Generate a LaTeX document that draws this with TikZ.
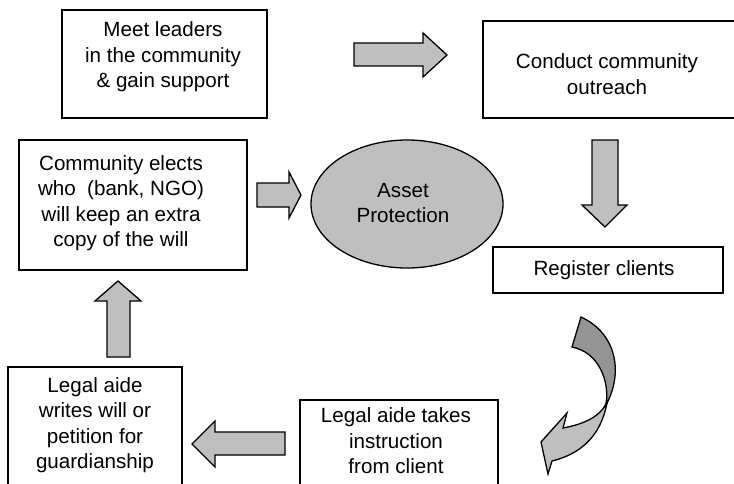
\documentclass[tikz,border=0pt]{standalone}
\usepackage{fontspec}
\setmainfont{Liberation Sans}
\usetikzlibrary{shapes.geometric}
\begin{document}
\begin{tikzpicture}[x=1pt,y=-1pt,
  box/.style={draw=black,line width=1.3pt,fill=white,inner sep=0pt},
  lbl/.style={align=center,font=\fontsize{20.6}{25.5}\selectfont,inner sep=0pt},
  blockarrow/.style={draw=black,line width=1.3pt,fill=black!25,line join=miter},
  darkpart/.style={draw=black,line width=1.3pt,fill=black!42}]
\clip (0,0) rectangle (734,483);
\fill[white] (0,0) rectangle (734,483);

% process boxes
\node[box,minimum width=205pt,minimum height=108pt] (meet) at (164.5,64) {};
\node[box,minimum width=228pt,minimum height=130pt] (elect) at (133,205) {};
\node[box,minimum width=267pt,minimum height=97pt] (conduct) at (616.5,69.5) {};
\node[box,minimum width=230pt,minimum height=46pt] (register) at (608,270) {};
\node[box,minimum width=174pt,minimum height=133pt] (writes) at (95,433.5) {};
\node[box,minimum width=198pt,minimum height=100pt] (takes) at (399,450) {};
\node[draw=black,line width=1.3pt,fill=black!25,ellipse,minimum width=192pt,minimum height=128pt,inner sep=0pt] (asset) at (407,204) {};

% labels
\node[lbl] (meettext) at (163,57) {Meet leaders\\in the community\\\& gain support};
\node[lbl] (electtext) at (121,203) {Community elects\\who\ \ (bank, NGO)\\will keep an extra\\copy of the will};
\node[lbl] (conducttext) at (607,74) {Conduct community\\outreach};
\node[lbl] (registertext) at (604,270) {Register clients};
\node[lbl] (writestext) at (95,425) {Legal aide\\writes will or\\petition for\\guardianship};
\node[lbl] (takestext) at (396,441) {Legal aide takes\\instruction\\from client};
\node[lbl] (assettext) at (403,203) {Asset\\Protection};

% block arrows between steps
\draw[blockarrow] (354,43) -- (423,43) -- (423,33) -- (447,55) -- (423,77) -- (423,66) -- (354,66) -- cycle;
\draw[blockarrow] (257,183) -- (289,183) -- (289,172) -- (301,195) -- (289,218) -- (289,207) -- (257,207) -- cycle;
\draw[blockarrow] (592,140) -- (618,140) -- (618,205) -- (627,205) -- (605,227) -- (582,205) -- (592,205) -- cycle;
\draw[blockarrow] (107,357) -- (107,301) -- (95,301) -- (118,281) -- (141,301) -- (130,301) -- (130,357) -- cycle;
\draw[blockarrow] (285,432) -- (215,432) -- (215,421) -- (192,444) -- (215,467) -- (215,455) -- (285,455) -- cycle;

% curved arrow from registration down to instruction
\draw[blockarrow] (609,388) .. controls (606,428) and (588,452) .. (552,461)
  -- (548,474) -- (541,442) -- (567,413) -- (563,428)
  .. controls (585,424) and (600,416) .. (606,404) -- cycle;
\draw[darkpart] (581,317) .. controls (616,333) and (624,372) .. (606,405)
  .. controls (610,380) and (598,352) .. (572,347) -- cycle;
\end{tikzpicture}
\end{document}
